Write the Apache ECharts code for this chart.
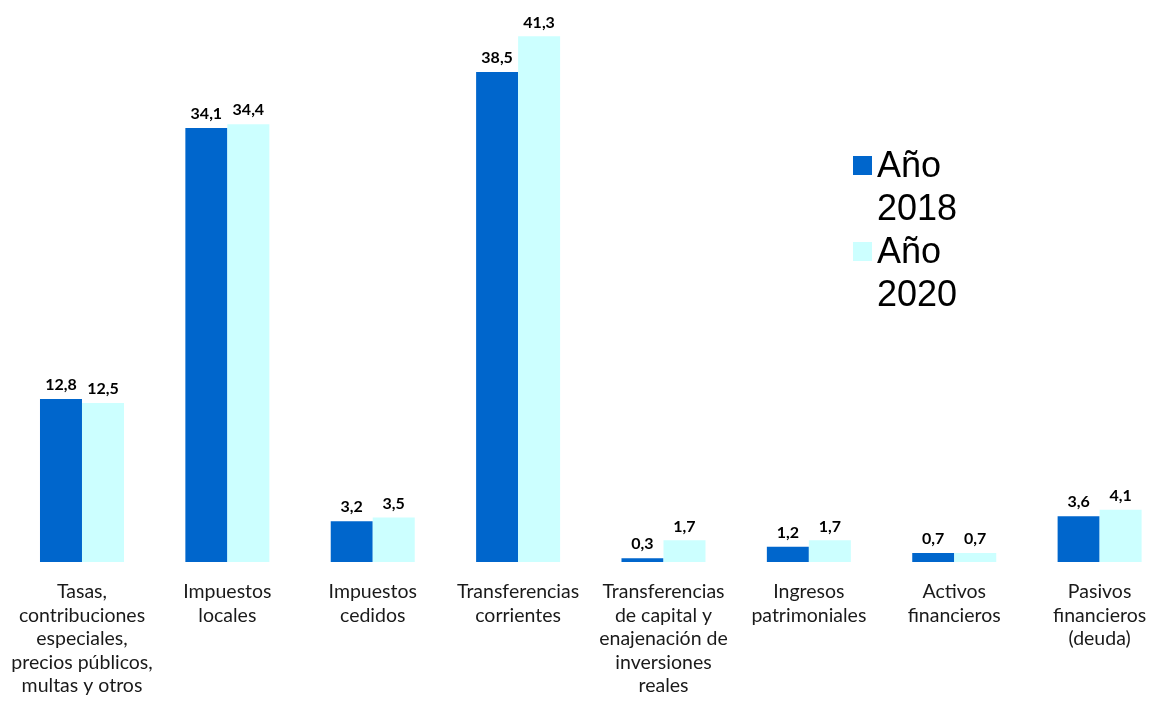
<!DOCTYPE html>
<html><head><meta charset="utf-8">
<script src="https://cdn.jsdelivr.net/npm/echarts@6/dist/echarts.min.js"></script>
<style>html,body{margin:0;padding:0;background:#fff}#c{width:1151px;height:702px}</style>
</head><body><div id="c"></div>
<script>
const categories = [
  "Tasas,\ncontribuciones\nespeciales,\nprecios públicos,\nmultas y otros",
  "Impuestos\nlocales",
  "Impuestos\ncedidos",
  "Transferencias\ncorrientes",
  "Transferencias\nde capital y\nenajenación de\ninversiones\nreales",
  "Ingresos\npatrimoniales",
  "Activos\nfinancieros",
  "Pasivos\nfinancieros\n(deuda)"
];
const seriesNames = ["Año\n2018", "Año\n2020"];
const values2018 = [12.8, 34.1, 3.2, 38.5, 0.3, 1.2, 0.7, 3.6];
const values2020 = [12.5, 34.4, 3.5, 41.3, 1.7, 1.7, 0.7, 4.1];

const chart = echarts.init(document.getElementById('c'), null, {renderer: 'canvas'});
const labelFmt = p => p.value.toFixed(1).replace('.', ',');
const barLabel = {
  show: true, position: 'top', distance: 6,
  formatter: labelFmt,
  fontFamily: 'Lato', fontWeight: 'bold', fontSize: 16, color: '#000'
};
// square icon in the upper part of a tall item box so it aligns with the first text line
const legendIcon = 'path://M0,0h0.01M0,10h19v19h-19zM0,86h0.01';
chart.setOption({
  animation: false,
  backgroundColor: '#fff',
  grid: {left: 9.3, top: 2, width: 1163, height: 560, containLabel: false, outerBoundsMode: 'none'},
  legend: {
    orient: 'vertical', left: 853, top: 146, padding: 0,
    itemWidth: 19, itemHeight: 86, itemGap: 0,
    icon: legendIcon,
    textStyle: {fontFamily: 'Liberation Sans', fontSize: 36, color: '#000', lineHeight: 43},
    data: seriesNames
  },
  xAxis: {
    type: 'category', data: categories,
    axisLine: {show: false}, axisTick: {show: false},
    axisLabel: {
      interval: 0, margin: 18,
      fontFamily: 'Lato', fontSize: 19.5, color: '#1a1a1a', lineHeight: 23.5
    }
  },
  yAxis: {
    type: 'value', min: 0, max: 44,
    show: false, splitLine: {show: false}
  },
  series: [
    {name: seriesNames[0], type: 'bar', data: values2018, barWidth: 42, barGap: '0%',
     itemStyle: {color: '#0066CC'}, label: barLabel},
    {name: seriesNames[1], type: 'bar', data: values2020, barWidth: 42, barGap: '0%',
     itemStyle: {color: '#CCFFFF'}, label: barLabel}
  ]
});
</script></body></html>
